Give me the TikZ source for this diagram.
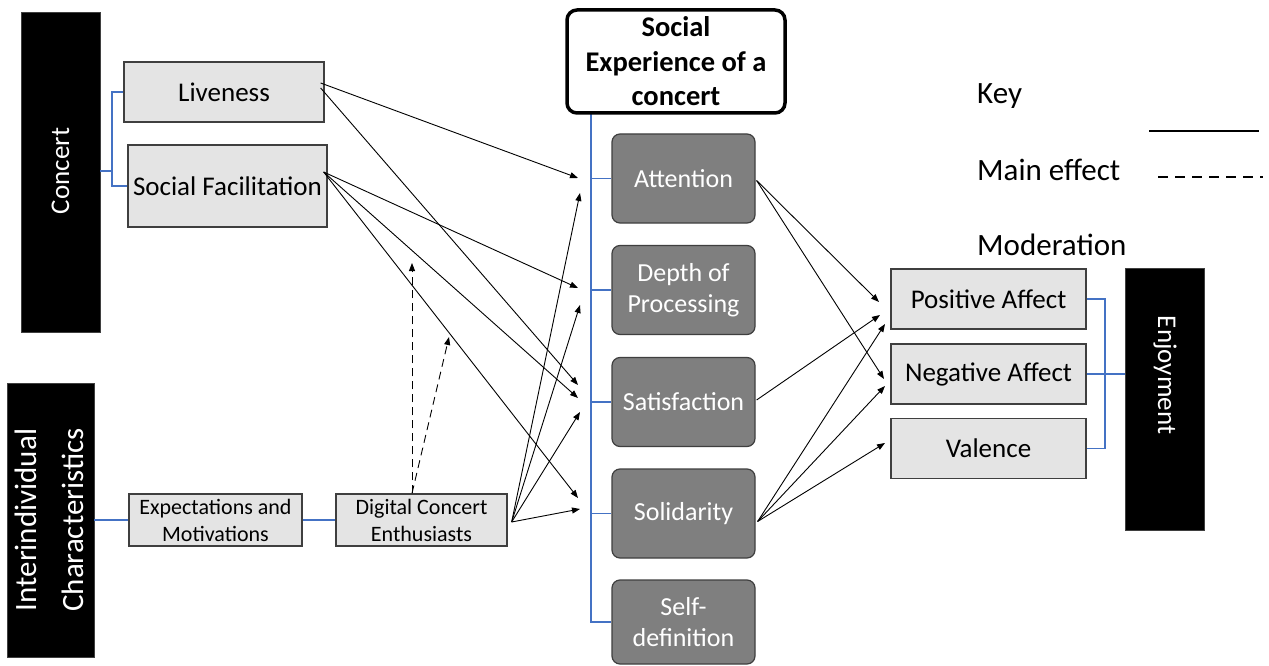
\documentclass[tikz,border=0pt]{standalone}
\usepackage{fontspec}
\setmainfont{Carlito}
\usetikzlibrary{arrows.meta,calc}
\definecolor{lightbox}{HTML}{E4E4E4}
\definecolor{darkbox}{HTML}{7F7F7F}
\definecolor{edgegray}{HTML}{3F3F3F}
\definecolor{linkblue}{HTML}{4472C4}

\begin{document}
\begin{tikzpicture}[x=1pt,y=-1pt,
  lightnode/.style={draw=edgegray, line width=1.3pt, fill=lightbox, inner sep=0pt,
    align=center, font=\fontsize{27}{32}\selectfont},
  smallnode/.style={lightnode, minimum height=52pt, font=\fontsize{22}{27}\selectfont},
  darknode/.style={draw=edgegray, line width=1.2pt, fill=darkbox, rounded corners=8pt,
    text=white, minimum width=143pt, minimum height=89pt, inner sep=0pt, align=center,
    font=\fontsize{26}{31}\selectfont},
  blackbar/.style={fill=black, draw=edgegray, line width=0.6pt, inner sep=0pt},
  bartext/.style={text=white, align=center, inner sep=0pt},
  blueline/.style={draw=linkblue, line width=1.1pt},
  effect/.style={draw=black, line width=0.9pt, -{Triangle[length=8pt,width=6pt]}},
  moderation/.style={effect, dash pattern=on 8pt off 5pt},
  keytext/.style={anchor=west, inner sep=0pt, font=\fontsize{31}{37}\selectfont},
]
\useasboundingbox (0,0) rectangle (1269,666);
\fill[white] (0,0) rectangle (1269,666);

% ---------- left: concert factors ----------
\node[blackbar, minimum width=79pt, minimum height=320pt] (concert) at (60.5,172) {};
\node[bartext, rotate=90, font=\fontsize{27}{32}\selectfont] (concerttext) at (60.5,171) {Concert};
\node[lightnode, minimum width=200pt, minimum height=60pt] (live) at (224,92) {Liveness};
\node[lightnode, minimum width=199pt, minimum height=82pt] (sf) at (227.5,186) {Social Facilitation};

\coordinate (cj) at (112,171);
\draw[blueline] (concert.east |- cj) -- (cj);
\draw[blueline] (live.west) -| (cj) |- (sf.west);

% ---------- left: interindividual characteristics ----------
\node[blackbar, minimum width=87pt, minimum height=274pt] (inter) at (50.5,520) {};
\node[bartext, rotate=90, font=\fontsize{31}{47}\selectfont] (intertext) at (49,520)
  {Interindividual\\Characteristics};
\node[smallnode, minimum width=173pt] (expect) at (215.5,520) {Expectations and\\Motivations};
\node[smallnode, minimum width=171pt] (digital) at (421.5,520) {Digital Concert\\Enthusiasts};
\draw[blueline] (inter.east) -- (expect.west);
\draw[blueline] (expect.east) -- (digital.west);

% ---------- centre: social experience ----------
\coordinate (spinetop) at (591,113);
\node[darknode] (att)  at (683.5,178.5) {Attention};
\node[darknode] (dop)  at (683.5,290)   {Depth of\\Processing};
\node[darknode] (sat)  at (683.5,402)   {Satisfaction};
\node[darknode] (sol)  at (683.5,513.5) {Solidarity};
\node[darknode, minimum height=84pt] (self) at (683.5,622) {Self-\\definition};
\draw[blueline] (spinetop) |- (self.west);
\foreach \b in {att,dop,sat,sol}
  \draw[blueline] (\b.west -| spinetop) -- (\b.west);
\node[draw=black, line width=3.5pt, rounded corners=10pt, fill=white, minimum width=218pt,
  minimum height=103pt, inner sep=0pt, align=center,
  font=\bfseries\fontsize{28.5}{34.5}\selectfont] (sec) at (676,61.5)
  {Social\\Experience of a\\concert};

% ---------- right: enjoyment ----------
\node[lightnode, minimum width=195pt, minimum height=60pt] (pos) at (988.5,299)   {Positive Affect};
\node[lightnode, minimum width=195pt, minimum height=60pt] (neg) at (988.5,374)   {Negative Affect};
\node[lightnode, minimum width=195pt, minimum height=60pt] (val) at (988.5,448.5) {Valence};
\node[blackbar, minimum width=79pt, minimum height=262pt] (enj) at (1164.5,399) {};
\node[bartext, rotate=-90, font=\fontsize{27}{32}\selectfont] (enjtext) at (1165,375) {Enjoyment};

\coordinate (rj) at (1105,374);
\draw[blueline] (pos.east) -| (rj) |- (val.east);
\draw[blueline] (neg.east) -- (neg.east -| enj.west);

% ---------- key ----------
\node[keytext] (keyhead) at (977,96) {Key};
\node[keytext] (keymain) at (977,170) {Main effect};
\node[keytext] (keymod)  at (977,245) {Moderation};
\coordinate (ksA) at (1149,131);
\coordinate (ksB) at (1259,131);
\coordinate (kdA) at (1158,177);
\coordinate (kdB) at (1263,177);
\draw[line width=2pt] (ksA) -- (ksB);
\draw[line width=1.6pt, dash pattern=on 10pt off 7pt] (kdA) -- (kdB);

% ---------- arrow end points ----------
\coordinate (tatt1) at (578,178);
\coordinate (tatt2) at (580,193);
\coordinate (tdop1) at (578,288);
\coordinate (tdop2) at (580,305);
\coordinate (tsat1) at (578,385);
\coordinate (tsat2) at (578,398);
\coordinate (tsat3) at (580,412);
\coordinate (tsol1) at (578,498);
\coordinate (tsol2) at (580,509);
\coordinate (tpos1) at (879,302);
\coordinate (tpos2) at (880,315);
\coordinate (tpos3) at (885,324);
\coordinate (tneg1) at (884,379);
\coordinate (tneg2) at (885,386);
\coordinate (tval1) at (885,443);
\coordinate (tmod1) at (412,263);
\coordinate (tmod2) at (449,337);

% ---------- effects ----------
\draw[effect] ($(live.east)+(-4,-9)$) -- (tatt1);
\draw[effect] ($(live.east)+(-4,-4)$) -- (tsat1);
\draw[effect] ($(sf.east)+(-4,-14)$) -- (tdop1);
\draw[effect] ($(sf.east)+(-4,-14)$) -- (tsat2);
\draw[effect] ($(sf.east)+(-4,-14)$) -- (tsol1);
\foreach \t in {tatt2,tdop2,tsat3,tsol2}
  \draw[effect] ($(digital.east)+(4,2)$) -- (\t);
\draw[moderation] (digital.north -| tmod1) -- (tmod1);
\draw[moderation] (digital.north -| tmod1) -- (tmod2);

\draw[effect] ($(att.east)+(1,2)$) -- (tpos1);
\draw[effect] ($(att.east)+(1,2)$) -- (tneg1);
\draw[effect] ($(sat.east)+(1,-2)$) -- (tpos2);
\foreach \t in {tpos3,tneg2,tval1}
  \draw[effect] ($(sol.east)+(2,8)$) -- (\t);
\end{tikzpicture}
\end{document}
